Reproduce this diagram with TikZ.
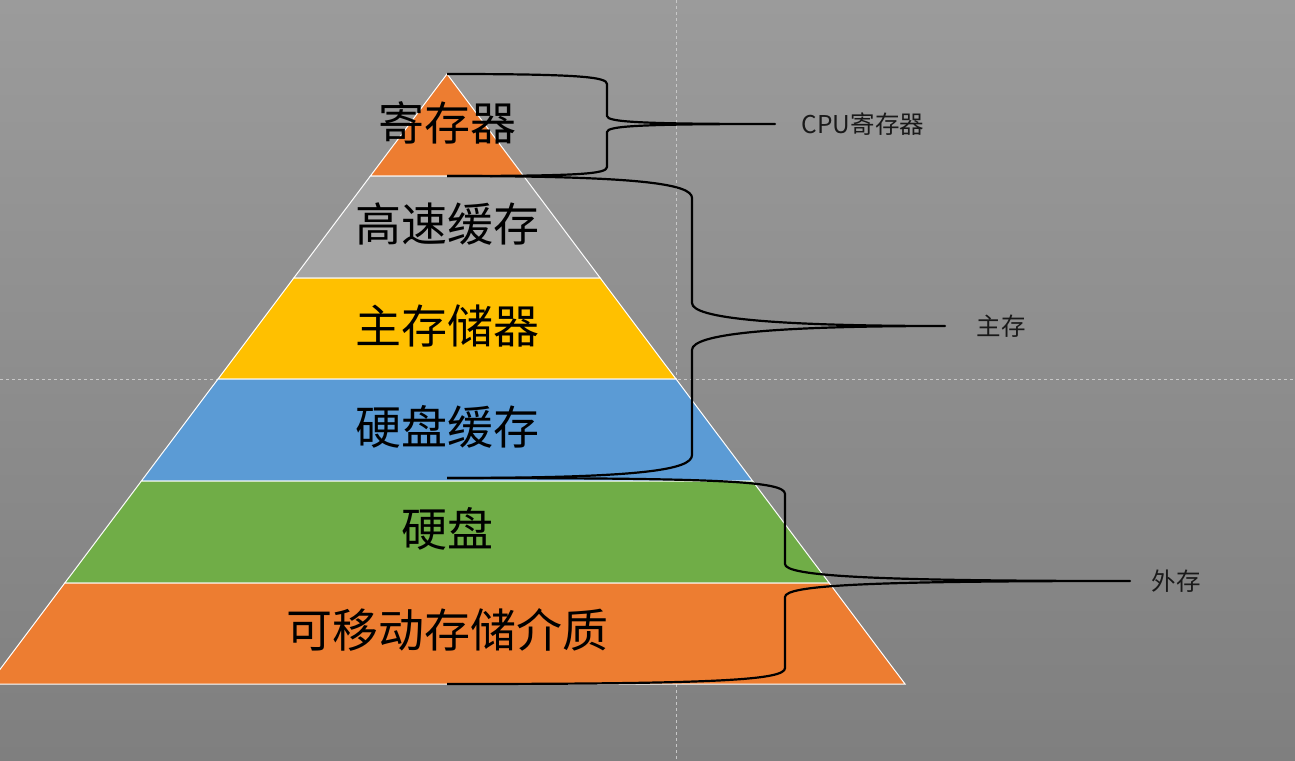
\documentclass[tikz,border=0pt]{standalone}
\usepackage{fontspec}
\newfontfamily\cjk{Noto Sans CJK SC}
\definecolor{cOrange}{HTML}{ED7D31}
\definecolor{cGray}{HTML}{A5A5A5}
\definecolor{cGold}{HTML}{FFC000}
\definecolor{cBlue}{HTML}{5B9BD5}
\definecolor{cGreen}{HTML}{70AD47}
\definecolor{bgTop}{HTML}{9B9B9B}
\definecolor{bgBot}{HTML}{7F7F7F}
\definecolor{guide}{HTML}{C8C8C8}
\begin{document}
\begin{tikzpicture}[x=1pt,y=-1pt,
  layer/.style={draw=white,line width=1pt},
  bigtext/.style={font=\cjk\fontsize{46}{50}\selectfont,text=black,inner sep=0pt},
  smalltext/.style={font=\cjk\fontsize{24.5}{28}\selectfont,text=black!90,inner sep=0pt,anchor=center},
  brace/.style={draw=black,line width=2.2pt,line join=round},
  guideline/.style={draw=guide,line width=0.6pt,dash pattern=on 3pt off 3pt}]
\useasboundingbox (0,0) rectangle (1295,760);
\shade[top color=bgTop,bottom color=bgBot] (0,0) rectangle (1295,760);
\draw[guideline] (676,0) -- (676,760);
\draw[guideline] (0,379) -- (1295,379);
\begin{scope}
\clip (0,0) rectangle (1295,760);
\fill[cOrange,layer] (447,74) -- (523.6,176) -- (370.4,176) -- cycle;
\fill[cGray,layer] (370.4,176) -- (523.6,176) -- (600.2,278) -- (293.8,278) -- cycle;
\fill[cGold,layer] (293.8,278) -- (600.2,278) -- (676,379) -- (218,379) -- cycle;
\fill[cBlue,layer] (218,379) -- (676,379) -- (752.6,481) -- (141.4,481) -- cycle;
\fill[cGreen,layer] (141.4,481) -- (752.6,481) -- (829.2,583) -- (64.8,583) -- cycle;
\fill[cOrange,layer] (64.8,583) -- (829.2,583) -- (905,684) -- (-11,684) -- cycle;
\end{scope}
\node[bigtext] (l1) at (447,123) {寄存器};
\node[bigtext] (l2) at (447,224) {高速缓存};
\node[bigtext] (l3) at (447,326) {主存储器};
\node[bigtext] (l4) at (447,427) {硬盘缓存};
\node[bigtext] (l5) at (447,529) {硬盘};
\node[bigtext] (l6) at (447,630) {可移动存储介质};
\coordinate (a0) at (447,74);
\coordinate (a1) at (447,176);
\coordinate (a2) at (447,478);
\coordinate (a3) at (447,684);
\coordinate (t1) at (775,124);
\coordinate (t2) at (945,326);
\coordinate (t3) at (1130,581);
\node[smalltext] (cpu) at (863,124) {CPU寄存器};
\node[smalltext] (zc) at (1001,326) {主存};
\node[smalltext] (wc) at (1176,581) {外存};
\draw[brace] (a0) .. controls (580,74) and (607,77) .. (607,84) -- (607,116)
  .. controls (607,122) and (640,124) .. (t1)
  .. controls (640,124) and (607,126) .. (607,132) -- (607,167)
  .. controls (607,174) and (580,176) .. (a1);
\draw[brace] (a1) .. controls (640,176) and (692,184) .. (692,198) -- (692,303)
  .. controls (692,318) and (770,326) .. (t2)
  .. controls (770,326) and (692,334) .. (692,350) -- (692,455)
  .. controls (692,470) and (640,478) .. (a2);
\draw[brace] (a2) .. controls (720,478) and (785,481) .. (785,494) -- (785,564)
  .. controls (785,576) and (870,581) .. (t3)
  .. controls (870,581) and (785,585) .. (785,597) -- (785,668)
  .. controls (785,680) and (720,684) .. (a3);
\end{tikzpicture}
\end{document}
